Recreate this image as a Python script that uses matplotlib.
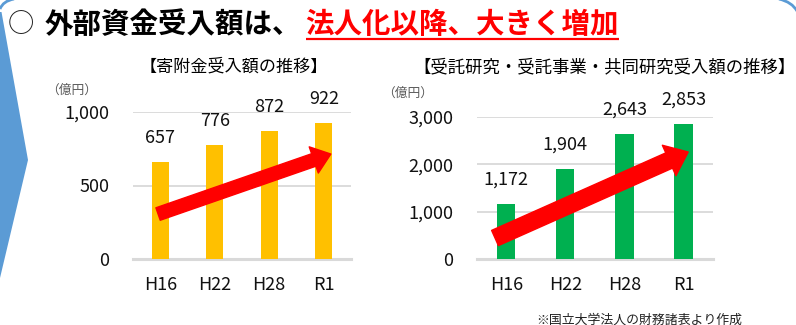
import numpy as np
import matplotlib.pyplot as plt
from matplotlib.patches import FancyArrowPatch, Polygon, PathPatch, ArrowStyle
from matplotlib.path import Path
from matplotlib.ticker import FuncFormatter

plt.rcParams['font.family'] = ['Noto Sans CJK JP', 'DejaVu Sans']

# 年度と受入額（億円）
YEARS = ['H16', 'H22', 'H28', 'R1']
DONATIONS = [657, 776, 872, 922]
RESEARCH = [1172, 1904, 2643, 2853]

# trend arrows (start/end in data coords)
DON_ARROW = [(-0.04, 306), (3.13, 714)]
RES_ARROW = [(-0.19, 448), (3.08, 2257)]

W, H = 796, 325
fig = plt.figure(figsize=(W / 100, H / 100), dpi=100)


def px_axes(x0, y_top, x1, y_bottom, **kw):
    return fig.add_axes([x0 / W, 1 - y_bottom / H, (x1 - x0) / W, (y_bottom - y_top) / H], **kw)


# background layer in pixel coords for the frame, chevron and headline
deco = px_axes(0, 0, W, H, zorder=-1)
deco.set_xlim(0, W)
deco.set_ylim(H, 0)
deco.axis('off')

blue = '#5B9BD5'
deco.add_patch(Polygon([(0, 12), (1.5, 12), (28, 160), (0, 278)], closed=True,
                       facecolor=blue, edgecolor='none'))
for pts in ([(0, 9), (3, 1), (14, -1)], [(779, -1), (792, 2), (797, 11)]):
    deco.add_patch(PathPatch(Path(pts, [Path.MOVETO, Path.CURVE3, Path.CURVE3]),
                             facecolor='none', edgecolor=blue, lw=2))

deco.text(21, 25, '○', fontsize=19, ha='center', va='center', color='#222222')
deco.text(45, 25, '外部資金受入額は、', fontsize=20.5, fontweight='bold',
          ha='left', va='center', color='black')
red_title = deco.text(305, 25, '法人化以降、大きく増加', fontsize=20.5, fontweight='bold',
                      ha='left', va='center', color='#FF0000')
fig.canvas.draw()
bb = red_title.get_window_extent().transformed(deco.transData.inverted())
deco.plot([bb.x0 + 1, bb.x1], [38.5, 38.5], color='#FF0000', lw=1.6, solid_capstyle='butt')

deco.text(234, 67, '【寄附金受入額の推移】', fontsize=12.3, ha='center', va='center')
deco.text(605, 67, '【受託研究・受託事業・共同研究受入額の推移】', fontsize=12.5,
          ha='center', va='center')
deco.text(72, 90, '（億円）', fontsize=9.2, ha='center', va='center', color='#595959')
deco.text(408, 93, '（億円）', fontsize=9.2, ha='center', va='center', color='#595959')
deco.text(742, 320, '※国立大学法人の財務諸表より作成', fontsize=9.3,
          ha='right', va='center', color='#222222')


def bar_panel(ax, values, color, ymax, step):
    x = np.arange(len(YEARS))
    ax.bar(x, values, width=0.31, color=color, zorder=2)
    ax.set_xlim(-0.5, len(YEARS) - 0.5)
    ax.set_ylim(0, ymax)
    ax.set_yticks(np.arange(0, ymax + 1, step))
    ax.yaxis.set_major_formatter(FuncFormatter(lambda v, p: f'{v:,.0f}'))
    ax.set_xticks(x, YEARS)
    ax.grid(axis='y', color='#D9D9D9', lw=1.3, zorder=0)
    ax.axhline(0, color='#D9D9D9', lw=2.2, clip_on=False, zorder=1)
    ax.set_axisbelow(True)
    for s in ax.spines.values():
        s.set_visible(False)
    ax.tick_params(length=0, labelsize=13, colors='#111111')
    ax.tick_params(axis='y', pad=17)
    ax.tick_params(axis='x', pad=12)
    for xi, v in zip(x, values):
        ax.annotate(f'{v:,}', (xi, v), xytext=(0, 17.5), textcoords='offset points',
                    ha='center', va='center', fontsize=13, color='#111111')
    return ax


ax1 = bar_panel(px_axes(133, 112, 351, 259), DONATIONS, '#FFC000', 1000, 500)
ax2 = bar_panel(px_axes(476.7, 116.7, 713, 259.3), RESEARCH, '#00B050', 3000, 1000)

ax1.add_patch(FancyArrowPatch(*DON_ARROW, mutation_scale=1, shrinkA=0, shrinkB=0,
                              arrowstyle=ArrowStyle.Simple(head_length=13, head_width=20, tail_width=9.5),
                              color='#FF0000', zorder=5, clip_on=False))
ax2.add_patch(FancyArrowPatch(*RES_ARROW, mutation_scale=1, shrinkA=0, shrinkB=0,
                              arrowstyle=ArrowStyle.Simple(head_length=15, head_width=24, tail_width=12),
                              color='#FF0000', zorder=5, clip_on=False))

fig.savefig('out.png', dpi=100)
